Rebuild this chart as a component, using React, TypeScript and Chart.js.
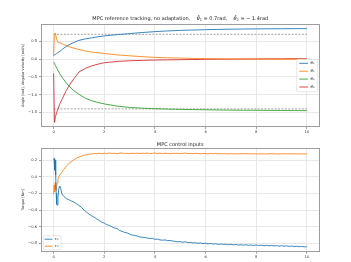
import React, { useEffect, useRef } from "react";
import { Chart, registerables } from "chart.js";

Chart.register(...registerables);

// ---------------- DATA ----------------
const T_STATE = [0, 0.03, 0.07, 0.12, 0.18, 0.25, 0.35, 0.5, 0.65, 0.8, 1.0, 1.25, 1.5, 1.75, 2.0, 2.5, 3.0, 3.5, 4.0, 4.5, 5.0, 5.5, 6.0, 6.5, 7.0, 7.5, 8.0, 8.5, 9.0, 9.5, 10.0];
const THETA1 = [0.10, 0.115, 0.135, 0.16, 0.19, 0.22, 0.285, 0.36, 0.42, 0.47, 0.53, 0.57, 0.60, 0.63, 0.655, 0.69, 0.72, 0.75, 0.775, 0.795, 0.81, 0.82, 0.83, 0.838, 0.844, 0.849, 0.852, 0.855, 0.857, 0.859, 0.86];
const THETA1_DOT = [0.10, 0.72, 0.73, 0.55, 0.47, 0.46, 0.43, 0.38, 0.34, 0.31, 0.27, 0.23, 0.20, 0.18, 0.16, 0.12, 0.095, 0.07, 0.05, 0.04, 0.03, 0.02, 0.015, 0.01, 0.005, 0.003, 0.0, 0.0, -0.002, -0.003, -0.005];
const THETA2 = [-0.08, -0.12, -0.18, -0.25, -0.33, -0.42, -0.53, -0.67, -0.79, -0.89, -0.99, -1.1, -1.17, -1.22, -1.26, -1.32, -1.36, -1.38, -1.395, -1.405, -1.415, -1.42, -1.425, -1.43, -1.435, -1.438, -1.44, -1.443, -1.445, -1.448, -1.45];
const THETA2_DOT = [-0.40, -1.78, -1.62, -1.5, -1.38, -1.25, -1.1, -0.88, -0.7, -0.55, -0.36, -0.26, -0.19, -0.14, -0.1, -0.065, -0.045, -0.035, -0.025, -0.02, -0.015, -0.01, -0.005, 0.0, 0.0, 0.005, 0.005, 0.01, 0.01, 0.015, 0.015];
const REF_T = [0, 10];
const REF_THETA1 = 0.7;
const REF_THETA2 = -1.4;

const T_TORQUE = [0, 0.02, 0.04, 0.06, 0.08, 0.1, 0.12, 0.14, 0.17, 0.2, 0.24, 0.28, 0.32, 0.36, 0.4, 0.45,
  0.5, 0.6, 0.7, 0.8, 0.9, 1.0, 1.1, 1.2, 1.3, 1.4, 1.5, 1.6, 1.7, 1.8, 1.9,
  2.0, 2.1, 2.2, 2.3, 2.4, 2.5, 2.6, 2.7, 2.8, 2.9, 3.0, 3.1, 3.2, 3.3, 3.4, 3.5, 3.6, 3.7, 3.8, 3.9,
  4.0, 4.1, 4.2, 4.3, 4.4, 4.5, 4.6, 4.7, 4.8, 4.9, 5.0, 5.1, 5.2, 5.3, 5.4, 5.5, 5.6, 5.7, 5.8, 5.9,
  6.0, 6.1, 6.2, 6.3, 6.4, 6.5, 6.6, 6.7, 6.8, 6.9, 7.0, 7.1, 7.2, 7.3, 7.4, 7.5, 7.6, 7.7, 7.8, 7.9,
  8.0, 8.1, 8.2, 8.3, 8.4, 8.5, 8.6, 8.7, 8.8, 8.9, 9.0, 9.1, 9.2, 9.3, 9.4, 9.5, 9.6, 9.7, 9.8, 9.9, 10.0];
const TAU1 = [0.20, 0.22, 0.08, 0.20, 0.02, -0.2, -0.33, -0.34, -0.24, -0.15, -0.11, -0.14, -0.2, -0.22, -0.235, -0.248,
  -0.262, -0.275, -0.291, -0.305, -0.322, -0.345, -0.368, -0.40, -0.425, -0.45, -0.468, -0.485, -0.505, -0.525, -0.545,
  -0.556, -0.575, -0.585, -0.6, -0.615, -0.622, -0.645, -0.655, -0.668, -0.674, -0.688, -0.7, -0.704, -0.712, -0.722, -0.727, -0.73, -0.736, -0.741, -0.738,
  -0.752, -0.748, -0.758, -0.762, -0.758, -0.768, -0.765, -0.772, -0.776, -0.781, -0.779, -0.786, -0.78, -0.791, -0.788, -0.795, -0.792, -0.799, -0.795, -0.803,
  -0.798, -0.806, -0.801, -0.808, -0.805, -0.812, -0.807, -0.813, -0.81, -0.816, -0.811, -0.818, -0.814, -0.82, -0.816, -0.821, -0.817, -0.823, -0.819, -0.825,
  -0.82, -0.826, -0.822, -0.828, -0.824, -0.829, -0.825, -0.831, -0.827, -0.833, -0.828, -0.834, -0.83, -0.836, -0.832, -0.838, -0.834, -0.84, -0.836, -0.842, -0.84];
const TAU2 = [-0.21, -0.1, -0.18, -0.07, -0.15, -0.16, -0.11, -0.07, -0.03, 0.0, 0.02, 0.04, 0.055, 0.07, 0.09, 0.11,
  0.13, 0.16, 0.185, 0.205, 0.225, 0.238, 0.25, 0.26, 0.266, 0.272, 0.276, 0.279, 0.276, 0.282, 0.278,
  0.284, 0.279, 0.286, 0.281, 0.283, 0.278, 0.284, 0.286, 0.28, 0.283, 0.278, 0.284, 0.28, 0.285, 0.279, 0.283, 0.281, 0.285, 0.279, 0.282,
  0.286, 0.28, 0.283, 0.279, 0.284, 0.281, 0.278, 0.283, 0.28, 0.284, 0.279, 0.282, 0.285, 0.279, 0.281, 0.278, 0.282, 0.28, 0.277, 0.281,
  0.279, 0.276, 0.28, 0.278, 0.281, 0.277, 0.279, 0.276, 0.278, 0.275, 0.279, 0.276, 0.278, 0.275, 0.277, 0.279, 0.276, 0.278, 0.275, 0.277,
  0.274, 0.277, 0.275, 0.278, 0.274, 0.276, 0.279, 0.275, 0.277, 0.274, 0.276, 0.278, 0.275, 0.277, 0.274, 0.279, 0.275, 0.277, 0.274, 0.276, 0.275];

const X_TICKS = [0, 2, 4, 6, 8, 10];
const X_TICK_LABELS = ["0", "2", "4", "6", "8", "10"];
const TOP_Y_TICKS = [-1.5, -1.0, -0.5, 0.0, 0.5];
const TOP_Y_TICK_LABELS = ["\u22121.5", "\u22121.0", "\u22120.5", "0.0", "0.5"];
const BOT_Y_TICKS = [-0.8, -0.6, -0.4, -0.2, 0.0, 0.2];
const BOT_Y_TICK_LABELS = ["\u22120.8", "\u22120.6", "\u22120.4", "\u22120.2", "0.0", "0.2"];

const STATE_LABELS = ["\u03b8\u2081", "\u03b8\u0307\u2081", "\u03b8\u2082", "\u03b8\u0307\u2082"];
const TORQUE_LABELS = ["\u03c4\u2081", "\u03c4\u2082"];
const TOP_TITLE = [
  { t: "MPC reference tracking, no adaptation,    " },
  { t: "\u03b8\u0304", i: true },
  { t: "1", sub: true },
  { t: " = 0.7rad,    " },
  { t: "\u03b8\u0304", i: true },
  { t: "2", sub: true },
  { t: " = \u2212 1.4rad" },
];
const BOT_TITLE = [{ t: "MPC control inputs" }];
const TOP_YLABEL = "Angle [rad], Angular velocity [rad/s]";
const BOT_YLABEL = "Torque [Nm]";

// ---------------- STYLE ----------------
const FONT = "DejaVu Sans";
const BLUE = "rgba(31,119,180,0.88)";
const ORANGE = "rgba(255,127,14,0.85)";
const GREEN = "rgba(44,160,44,0.85)";
const RED = "rgba(214,39,40,0.85)";
const W = 351;

type Seg = { t: string; i?: boolean; sub?: boolean };

function pts(xs: number[], ys: number[]) {
  const n = Math.min(xs.length, ys.length);
  const out: { x: number; y: number }[] = [];
  for (let k = 0; k < n; k++) out.push({ x: xs[k], y: ys[k] });
  return out;
}

function makeDecor(o: {
  title: Seg[]; titleY: number; titleSize: number;
  legend: { x: number; y: number; w: number; h: number; rows: number[]; lx0: number; lx1: number; tx: number };
}) {
  return {
    id: "decor",
    afterDraw(chart: any) {
      const ctx = chart.ctx as CanvasRenderingContext2D;
      const a = chart.chartArea;
      ctx.save();
      // frame
      ctx.strokeStyle = "#9e9e9e";
      ctx.lineWidth = 1;
      ctx.strokeRect(Math.round(a.left) + 0.5, Math.round(a.top) + 0.5, Math.round(a.right - a.left) - 1, Math.round(a.bottom - a.top) - 1);
      // title
      const fs = o.titleSize;
      const fontFor = (s: Seg) => `${s.i ? "italic " : ""}${s.sub ? fs * 0.7 : fs}px "${FONT}"`;
      let total = 0;
      const widths = o.title.map((s) => {
        ctx.font = fontFor(s);
        const w = ctx.measureText(s.t).width;
        total += w;
        return w;
      });
      let x = (a.left + a.right) / 2 - total / 2;
      ctx.fillStyle = "#222";
      ctx.textBaseline = "middle";
      ctx.textAlign = "left";
      o.title.forEach((s, k) => {
        ctx.font = fontFor(s);
        ctx.fillText(s.t, x, o.titleY + (s.sub ? fs * 0.3 : 0));
        x += widths[k];
      });
      // legend
      const L = o.legend;
      ctx.fillStyle = "rgba(255,255,255,0.85)";
      ctx.strokeStyle = "#d6d6d6";
      ctx.lineWidth = 0.6;
      ctx.beginPath();
      (ctx as any).roundRect ? (ctx as any).roundRect(L.x, L.y, L.w, L.h, 1.2) : ctx.rect(L.x, L.y, L.w, L.h);
      ctx.fill();
      ctx.stroke();
      const ds = chart.data.datasets.filter((d: any) => !d.hideLegend);
      ds.forEach((d: any, k: number) => {
        const y = L.rows[k];
        ctx.strokeStyle = d.borderColor;
        ctx.lineWidth = 1;
        ctx.setLineDash([]);
        ctx.beginPath();
        ctx.moveTo(L.lx0, y);
        ctx.lineTo(L.lx1, y);
        ctx.stroke();
        ctx.fillStyle = "#222";
        ctx.font = `italic 3.9px "${FONT}"`;
        ctx.textBaseline = "middle";
        ctx.fillText(d.label, L.tx, y);
      });
      ctx.restore();
    },
  };
}

function axisCommon() {
  return {
    grid: { color: "#e2e2e2", lineWidth: 0.8, drawTicks: true, tickLength: 2, tickColor: "#8a8a8a" },
    border: { display: false },
  };
}

function makeConfig(kind: "top" | "bottom", height: number): any {
  const isTop = kind === "top";
  const datasets: any[] = isTop
    ? [
        { label: STATE_LABELS[0], data: pts(T_STATE, THETA1), borderColor: BLUE },
        { label: STATE_LABELS[1], data: pts(T_STATE, THETA1_DOT), borderColor: ORANGE },
        { label: STATE_LABELS[2], data: pts(T_STATE, THETA2), borderColor: GREEN },
        { label: STATE_LABELS[3], data: pts(T_STATE, THETA2_DOT), borderColor: RED },
        { label: "ref1", hideLegend: true, data: pts(REF_T, REF_T.map(() => REF_THETA1)), borderColor: "rgba(140,140,140,0.8)", borderDash: [2, 1.4] },
        { label: "ref2", hideLegend: true, data: pts(REF_T, REF_T.map(() => REF_THETA2)), borderColor: "rgba(140,140,140,0.8)", borderDash: [2, 1.4] },
      ]
    : [
        { label: TORQUE_LABELS[0], data: pts(T_TORQUE, TAU1), borderColor: BLUE },
        { label: TORQUE_LABELS[1], data: pts(T_TORQUE, TAU2), borderColor: ORANGE },
      ];
  datasets.forEach((d) => {
    d.borderWidth = 1;
    d.pointRadius = 0;
    d.fill = false;
    d.tension = 0;
  });
  const yTicks = isTop ? TOP_Y_TICKS : BOT_Y_TICKS;
  const yLabels = isTop ? TOP_Y_TICK_LABELS : BOT_Y_TICK_LABELS;
  const area = isTop ? { top: 24, bottom: 127 } : { top: 147.7 - 137, bottom: 251.7 - 137 };
  const decor = makeDecor(
    isTop
      ? {
          title: TOP_TITLE, titleY: 19, titleSize: 5,
          legend: { x: 296.7, y: 59.3, w: 21, h: 32.4, rows: [63.3, 71.2, 79.1, 87], lx0: 299.3, lx1: 308, tx: 310.5 },
        }
      : {
          title: BOT_TITLE, titleY: 144.3 - 137, titleSize: 5,
          legend: { x: 43.3, y: 98.7, w: 17.7, h: 14.2, rows: [102.2, 109.2], lx0: 44.6, lx1: 52.4, tx: 54.6 },
        }
  );
  return {
    type: "line",
    data: { datasets },
    plugins: [decor],
    options: {
      responsive: false,
      animation: false,
      devicePixelRatio: 1,
      events: [],
      layout: { padding: { left: 0, right: W - 319.5, top: area.top, bottom: 0 } },
      plugins: { legend: { display: false }, title: { display: false }, tooltip: { enabled: false } },
      scales: {
        x: {
          type: "linear",
          min: -0.5,
          max: 10.5,
          ...axisCommon(),
          afterBuildTicks: (s: any) => {
            s.ticks = X_TICKS.map((v) => ({ value: v }));
          },
          afterFit: (s: any) => {
            s.height = height - area.bottom;
          },
          ticks: {
            padding: 1,
            maxRotation: 0,
            autoSkip: false,
            color: "#333",
            font: { family: FONT, size: 3.7 },
            callback: (v: number) => {
              const k = X_TICKS.findIndex((t) => Math.abs(t - v) < 1e-9);
              return k >= 0 ? X_TICK_LABELS[k] : "";
            },
          },
        },
        y: {
          type: "linear",
          min: isTop ? -1.91 : -0.9,
          max: isTop ? 0.99 : 0.35,
          ...axisCommon(),
          afterBuildTicks: (s: any) => {
            s.ticks = yTicks.map((v) => ({ value: v }));
          },
          afterFit: (s: any) => {
            s.width = 41;
          },
          title: {
            display: true,
            text: isTop ? TOP_YLABEL : BOT_YLABEL,
            color: "#333",
            font: { family: FONT, size: 3.5 },
            padding: { top: 21, bottom: 0 },
          },
          ticks: {
            padding: 2,
            autoSkip: false,
            color: "#333",
            font: { family: FONT, size: 3.7 },
            callback: (v: number) => {
              const k = yTicks.findIndex((t) => Math.abs(t - v) < 1e-9);
              return k >= 0 ? yLabels[k] : "";
            },
          },
        },
      },
    },
  };
}

function ChartCanvas({ kind, top, height }: { kind: "top" | "bottom"; top: number; height: number }) {
  const ref = useRef<HTMLCanvasElement>(null);
  useEffect(() => {
    const chart = new Chart(ref.current as HTMLCanvasElement, makeConfig(kind, height));
    return () => chart.destroy();
  }, [kind, height]);
  return (
    <canvas
      ref={ref}
      width={W}
      height={height}
      style={{ position: "absolute", left: 0, top, width: W, height, display: "block" }}
    />
  );
}

export default function App() {
  return (
    <div style={{ position: "absolute", left: 0, top: 0, width: W, height: 262, background: "#fff", overflow: "hidden" }}>
      <ChartCanvas kind="top" top={0} height={137} />
      <ChartCanvas kind="bottom" top={137} height={125} />
    </div>
  );
}
